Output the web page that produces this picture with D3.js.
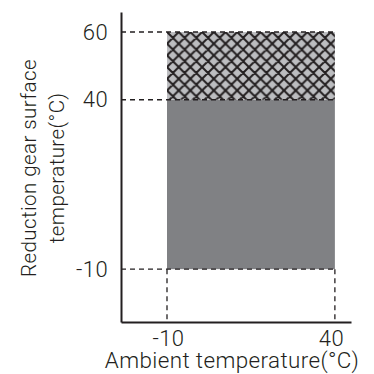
<!DOCTYPE html>
<html><head><meta charset="utf-8">
<script src="https://cdn.jsdelivr.net/npm/d3@7"></script>
<style>
html,body{margin:0;padding:0;background:#fff;}
svg text{font-family:Roboto,"Liberation Sans",Arial,sans-serif;font-weight:300;fill:#231f20;letter-spacing:0.4px;}
</style></head>
<body><svg id="c" width="374" height="374"></svg>
<script>
// Data
const xTicks = [-10, 40];
const yTicks = [-10, 40, 60];
const ambientRange = [-10, 40];
const bandLow = [-10, 40];
const bandHigh = [40, 60];
const bandKind = ["solid", "hatch"];
const xTitle = "Ambient temperature(°C)";
const yTitle = ["Reduction gear surface", "temperature(°C)"];

const svg = d3.select("#c");
const x = d3.scaleLinear().domain([-23.7, 44.8]).range([121, 351]);
const y = d3.scaleLinear().domain([-25.6, 65.9]).range([322, 12]);
const ink = "#231f20";
const FS = 22;

const defs = svg.append("defs");
const P = 11.7;
const pat = defs.append("pattern").attr("id", "hatch").attr("patternUnits", "userSpaceOnUse")
  .attr("width", P).attr("height", P).attr("x", x(-10)).attr("y", y(60));
pat.append("rect").attr("width", P).attr("height", P).attr("fill", "#bcbdc0");
pat.append("path").attr("d", `M-1,-1 L${P+1},${P+1} M-1,${P-1} L1,${P+1} M${P-1},-1 L${P+1},1 M-1,${P+1} L${P+1},-1 M-1,1 L1,-1 M${P-1},${P+1} L${P+1},${P-1}`)
  .attr("stroke", ink).attr("stroke-width", 2).attr("fill", "none");

const bands = bandLow.map((lo, i) => ({lo, hi: bandHigh[i], kind: bandKind[i]}));
svg.append("g").selectAll("rect").data(bands).join("rect")
  .attr("x", x(ambientRange[0])).attr("width", x(ambientRange[1]) - x(ambientRange[0]))
  .attr("y", d => y(d.hi)).attr("height", d => y(d.lo) - y(d.hi))
  .attr("fill", d => d.kind === "hatch" ? "url(#hatch)" : "#808184");

// dashed guide lines
const dash = svg.append("g").attr("stroke", ink).attr("stroke-width", 1.3).attr("stroke-dasharray", "5,4").attr("fill", "none");
yTicks.forEach(v => {
  dash.append("line").attr("x1", x.range()[0]).attr("x2", x(ambientRange[1])).attr("y1", y(v)).attr("y2", y(v));
});
xTicks.forEach(v => {
  dash.append("line").attr("x1", x(v)).attr("x2", x(v)).attr("y1", y(bandLow[0])).attr("y2", y.range()[0]);
});

// axes
const fmt = d => String(d);
const yAxis = svg.append("g").attr("transform", `translate(${x.range()[0]},0)`)
  .call(d3.axisLeft(y).tickValues(yTicks).tickSize(0).tickPadding(13).tickFormat(fmt));
const xAxis = svg.append("g").attr("transform", `translate(0,${y.range()[0]})`)
  .call(d3.axisBottom(x).tickValues(xTicks).tickSize(0).tickFormat(fmt));
[yAxis, xAxis].forEach(a => {
  a.select(".domain").attr("stroke", ink).attr("stroke-width", 2);
  a.selectAll("text").attr("font-size", FS).attr("font-family", null).attr("fill", null);
});
xAxis.selectAll(".tick text").attr("y", 23.5).attr("dy", 0).attr("text-anchor", "middle")
  .attr("dx", (d, i) => i === xTicks.length - 1 ? -4 : 1);

svg.append("text").attr("x", 232).attr("y", 367.5).attr("text-anchor", "middle").attr("font-size", 22.4).text(xTitle);
const yt = svg.append("text").attr("transform", "translate(35.5,168) rotate(-90)").attr("text-anchor", "middle").attr("font-size", 20.6);
yTitle.forEach((t, i) => yt.append("tspan").attr("x", 0).attr("y", i * 28).text(t));
</script></body></html>
